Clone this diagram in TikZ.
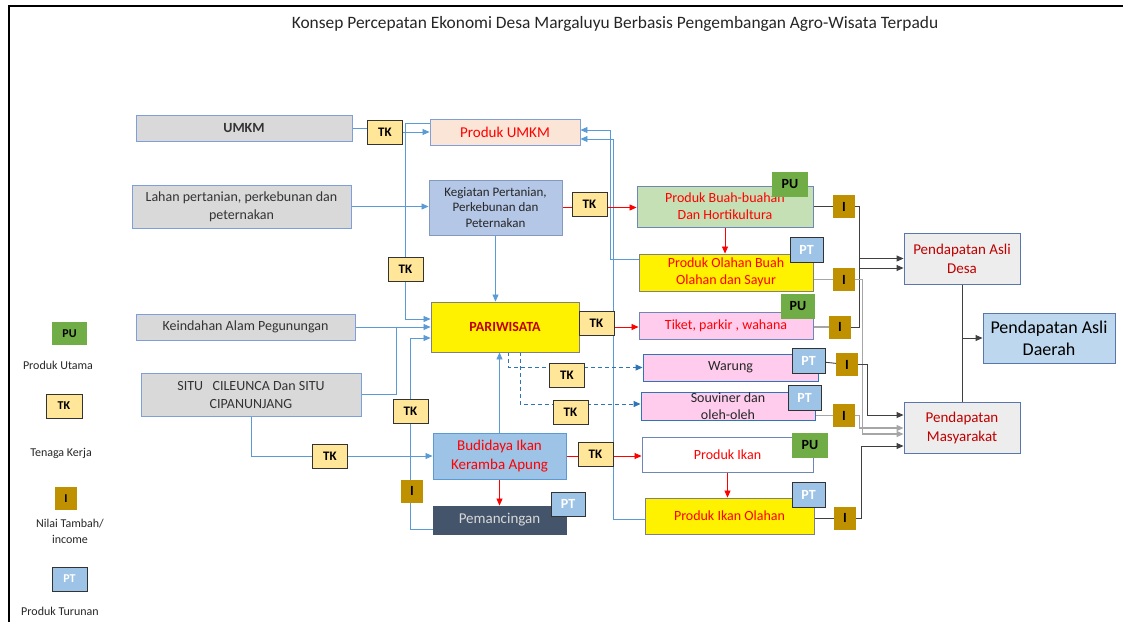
\documentclass[tikz,border=0pt]{standalone}
\usepackage{fontspec}
\setmainfont{Carlito}
\usetikzlibrary{arrows.meta, backgrounds}
\definecolor{srcborder}{HTML}{7F9FDB}
\definecolor{greyfill}{HTML}{D9D9D9}
\definecolor{peach}{HTML}{FBE5D6}
\definecolor{paleblue}{HTML}{B4C7E7}
\definecolor{midblue}{HTML}{9DC3E6}
\definecolor{slate}{HTML}{44546A}
\definecolor{palegreen}{HTML}{C5E0B4}
\definecolor{pinkfill}{HTML}{FFCCEE}
\definecolor{tkfill}{HTML}{FFE699}
\definecolor{pugreen}{HTML}{70AD47}
\definecolor{igold}{HTML}{BF9000}
\definecolor{lightgrey}{HTML}{EDEDED}
\definecolor{daerahblue}{HTML}{BDD7EE}
\definecolor{darkred}{HTML}{C00000}
\definecolor{linkblue}{HTML}{5B9BD5}
\definecolor{dashblue}{HTML}{2E75B6}
\definecolor{navyline}{HTML}{2F5597}
\tikzset{
  base box/.style={
    draw,
    line width=0.9pt,
    align=center,
    inner sep=0pt,
    font=\fontsize{14}{17}\selectfont,
  },
  source box/.style={base box, draw=srcborder, fill=greyfill, text=black!80},
  core box/.style={base box, draw=srcborder, text=red},
  product box/.style={base box, draw=navyline!70, text=red},
  income box/.style={base box, draw=navyline!80, fill=lightgrey, text=darkred,
    font=\fontsize{15}{19}\selectfont},
  badge/.style={inner sep=0pt, font=\bfseries\fontsize{13}{15}\selectfont},
  tk badge/.style={badge, draw=black!80, line width=0.8pt, fill=tkfill,
    minimum width=35pt, minimum height=24pt},
  pu badge/.style={badge, fill=pugreen, minimum width=36pt, minimum height=25pt,
    font=\bfseries\fontsize{14}{16}\selectfont},
  pt badge/.style={badge, draw=black!80, line width=0.8pt, fill=midblue, text=white,
    minimum width=33pt, minimum height=25pt, font=\bfseries\fontsize{14}{16}\selectfont},
  i badge/.style={badge, fill=igold, minimum width=22pt, minimum height=23pt,
    font=\bfseries\fontsize{14}{16}\selectfont},
  legend text/.style={align=center, font=\fontsize{12}{16}\selectfont, text=black!85},
  blue link/.style={draw=linkblue, line width=0.8pt},
  red link/.style={draw=red, line width=0.8pt},
  dash link/.style={draw=dashblue, line width=1pt, dash pattern=on 4pt off 3pt},
  income link/.style={draw=black!75, line width=0.9pt},
  income link grey/.style={draw=black!35, line width=1.2pt},
}

\begin{document}
\begin{tikzpicture}[x=1pt, y=-1pt, >={Triangle[length=7pt, width=6pt]}]
  \useasboundingbox (0,0) rectangle (1123,622);
  \draw[line width=2pt] (9,622) -- (9,6) -- (1123,6);
  \node[font=\fontsize{17.4}{20}\selectfont, text=black!85] (title) at (615,24)
    {Konsep Percepatan Ekonomi Desa Margaluyu Berbasis Pengembangan Agro-Wisata Terpadu};

  % sumber daya
  \node[source box, minimum width=216pt, minimum height=26pt, font=\bfseries\fontsize{14}{17}\selectfont] (umkm) at (244,128) {UMKM};
  \node[source box, minimum width=219pt, minimum height=43pt, font=\fontsize{14}{18}\selectfont] (lahan) at (241.5,206.5) {Lahan pertanian, perkebunan dan\\peternakan};
  \node[source box, minimum width=219pt, minimum height=26pt] (keindahan) at (245.5,327) {Keindahan Alam Pegunungan};
  \node[source box, minimum width=220pt, minimum height=43pt, font=\fontsize{14}{18}\selectfont] (situ) at (251,394.5) {SITU\ \ \ CILEUNCA Dan SITU\\CIPANUNJANG};

  % kegiatan inti
  \node[core box, fill=peach, minimum width=150pt, minimum height=26pt, font=\fontsize{15}{18}\selectfont] (produkumkm) at (505,132) {Produk UMKM};
  \node[core box, draw=navyline!60, fill=paleblue, text=black!85, minimum width=133pt, minimum height=55pt, font=\fontsize{13}{15.5}\selectfont] (kegiatan) at (495.5,207.5) {Kegiatan Pertanian,\\Perkebunan dan\\Peternakan};
  \node[core box, draw=black!50, fill=yellow, text=darkred, minimum width=148pt, minimum height=50pt, font=\bfseries\fontsize{14}{17}\selectfont] (pariwisata) at (505,327) {PARIWISATA};
  \node[core box, draw=linkblue, fill=midblue, minimum width=133pt, minimum height=46pt, font=\fontsize{15}{19}\selectfont] (budidaya) at (499.5,456) {Budidaya Ikan\\Keramba Apung};
  \node[core box, draw=slate, fill=slate, text=black!15, minimum width=133pt, minimum height=28pt, font=\fontsize{15}{18}\selectfont] (pemancingan) at (499.5,520) {Pemancingan};

  % produk
  \node[product box, fill=palegreen, minimum width=176pt, minimum height=41pt] (buah) at (725,206.5) {Produk Buah-buahan\\Dan Hortikultura};
  \node[product box, draw=black!50, fill=yellow, minimum width=174pt, minimum height=37pt] (olahanbuah) at (726,272.5) {Produk Olahan Buah\\Olahan dan Sayur};
  \node[product box, fill=pinkfill, minimum width=174pt, minimum height=27pt] (tiket) at (726,325.5) {Tiket, parkir , wahana};
  \node[product box, draw=dashblue, fill=pinkfill, text=black!85, minimum width=175pt, minimum height=27pt] (warung) at (730.5,367.5) {Warung};
  \node[product box, draw=dashblue, fill=pinkfill, text=black!85, minimum width=174pt, minimum height=28pt, font=\fontsize{14}{17}\selectfont] (souviner) at (728,406) {Souviner dan\\oleh-oleh};
  \node[product box, fill=white, minimum width=171pt, minimum height=35pt] (ikan) at (727.5,454.5) {Produk Ikan};
  \node[product box, draw=black!50, fill=yellow, minimum width=169pt, minimum height=36pt] (ikanolahan) at (729.5,516) {Produk Ikan Olahan};

  % pendapatan
  \node[income box, minimum width=116pt, minimum height=51pt] (desa) at (962,258.5) {Pendapatan Asli\\Desa};
  \node[income box, minimum width=116pt, minimum height=51pt] (masyarakat) at (962,427.5) {Pendapatan\\Masyarakat};
  \node[income box, fill=daerahblue, text=black, minimum width=132pt, minimum height=50pt, font=\fontsize{18}{22}\selectfont] (daerah) at (1049,338) {Pendapatan Asli\\Daerah};

  % tenaga kerja
  \node[tk badge] (tka) at (385,132) {TK};
  \node[tk badge] (tkb) at (589.5,204) {TK};
  \node[tk badge] (tkc) at (405.5,269) {TK};
  \node[tk badge] (tkd) at (596.5,323) {TK};
  \node[tk badge] (tke) at (567,375) {TK};
  \node[tk badge] (tkf) at (570.5,412.5) {TK};
  \node[tk badge] (tkg) at (410.5,411.5) {TK};
  \node[tk badge] (tkh) at (330,456) {TK};
  \node[tk badge] (tki) at (595.5,454) {TK};

  % produk utama / turunan
  \node[pu badge] (pua) at (790,184.5) {PU};
  \node[pu badge, minimum width=34pt] (pub) at (798,306.5) {PU};
  \node[pu badge] (puc) at (810,445.5) {PU};
  \node[pt badge] (pta) at (806.5,249.5) {PT};
  \node[pt badge] (ptb) at (808.5,360.5) {PT};
  \node[pt badge] (ptc) at (804.5,397.5) {PT};
  \node[pt badge] (ptd) at (808.5,494.5) {PT};
  \node[pt badge, minimum width=34pt, minimum height=24pt] (pte) at (568,504) {PT};

  % nilai tambah
  \node[i badge] (i1) at (844,206.5) {I};
  \node[i badge] (i2) at (844,279.5) {I};
  \node[i badge] (i3) at (840,327) {I};
  \node[i badge] (i4) at (847,364.5) {I};
  \node[i badge] (i5) at (844,415.5) {I};
  \node[i badge] (i6) at (845,518) {I};
  \node[i badge] (i7) at (412,491) {I};

  \coordinate (d1) at (desa.west);
  \coordinate (d2) at ([yshift=-9.5pt]desa.west);
  \coordinate (m1) at ([yshift=12.5pt]masyarakat.west);
  \coordinate (m2) at ([yshift=-0.5pt]masyarakat.west);
  \coordinate (m3) at ([yshift=-6.5pt]masyarakat.west);
  \coordinate (m4) at ([yshift=-18.5pt]masyarakat.west);

  % keterangan
  \node[pu badge, minimum width=35pt, minimum height=23pt, font=\bfseries\fontsize{12}{14}\selectfont] (legpu) at (69.5,333.5) {PU};
  \node[legend text] (legpulabel) at (58,365) {Produk Utama};
  \node[tk badge, minimum width=36pt, font=\bfseries\fontsize{12}{14}\selectfont] (legtk) at (64,406) {TK};
  \node[legend text] (legtklabel) at (61,453) {Tenaga Kerja};
  \node[i badge, font=\bfseries\fontsize{12}{14}\selectfont] (legi) at (66,498.5) {I};
  \node[legend text] (legilabel) at (70,531) {Nilai Tambah/\\income};
  \node[pt badge, minimum width=35pt, minimum height=24pt, font=\bfseries\fontsize{12}{14}\selectfont] (legpt) at (69.5,579) {PT};
  \node[legend text] (legptlabel) at (60,611) {Produk Turunan};

  \begin{scope}[on background layer]
    % alur biru
    \draw[blue link] (umkm.east) -- (umkm.east -| tka.west);
    \draw[blue link, ->] (tka) -- (produkumkm.west);
    \draw[blue link, ->] ([yshift=9pt]produkumkm.west) -| (tkc) |- ([yshift=8pt]pariwisata.west);
    \draw[blue link, ->] (lahan.east) -- (lahan.east -| kegiatan.west);
    \draw[blue link, ->] (keindahan.east) -- (pariwisata.west);
    \draw[blue link] (situ.east) -| ([xshift=41pt]keindahan.east);
    \draw[blue link, ->] (situ.south) |- (tkh) -- (budidaya.west);
    \draw[blue link, ->] ([yshift=-9pt]pemancingan.west) -| (tkg) |- ([yshift=-11pt]pariwisata.west);
    \draw[blue link, ->] (kegiatan.south) -- (kegiatan.south |- pariwisata.north);
    \draw[blue link, ->] (budidaya.north) -- (budidaya.north |- pariwisata.south);
    \draw[blue link, ->] ([yshift=13pt]olahanbuah.west) -| ([xshift=30pt, yshift=2pt]produkumkm.east) -- ([yshift=2pt]produkumkm.east);
    \draw[blue link, ->] ([yshift=-3pt]ikanolahan.west) -| ([xshift=33pt, yshift=-7pt]produkumkm.east) -- ([yshift=-7pt]produkumkm.east);
    \draw[dash link, ->] ([xshift=3pt]pariwisata.south) |- (warung.west);
    \draw[dash link, ->] ([xshift=15pt]pariwisata.south) |- ([yshift=2pt]souviner.west);

    % alur merah
    \draw[red link, ->] (kegiatan.east) -- (kegiatan.east -| buah.west);
    \draw[red link, ->] (buah.south) -- (buah.south |- olahanbuah.north);
    \draw[red link, ->] (pariwisata.east) -- (pariwisata.east -| tiket.west);
    \draw[red link, ->] (budidaya.east) -- (budidaya.east -| ikan.west);
    \draw[red link, ->] (budidaya.south) -- (budidaya.south |- pemancingan.north);
    \draw[red link, ->] (ikan.south) -- (ikan.south |- ikanolahan.north);

    % nilai tambah ke pendapatan
    \draw[income link] (buah.east) -- (i1);
    \draw[income link grey] (olahanbuah.east |- i2) -- (i2);
    \draw[income link grey] (tiket.east |- i3) -- (i3);
    \draw[income link] (ptb) -- (i4);
    \draw[income link grey] (souviner.east |- i5) -- (i5);
    \draw[income link] (ikanolahan.east |- i6) -- (i6);
    \draw[income link] (i1.east) -- ++(4,0) |- (i3.east);
    \draw[income link, ->] (i3.east) -- ++(8,0) |- (d1);
    \draw[income link, ->] (i3.east) -- ++(8,0) |- (d2);
    \draw[income link grey, ->] (i2.east) -- ++(7,0) |- (m3);
    \draw[income link, ->] (i4.east) -- ++(9,0) |- (m1);
    \draw[income link grey, ->] (i5.east) -- ++(4,0) |- (m2);
    \draw[income link, ->] (i6.east) -- ++(5,0) |- (m4);
    \draw[income link] (desa.south) -- (masyarakat.north);
    \draw[income link, ->] (desa.south |- daerah.west) -- (daerah.west);
  \end{scope}
\end{tikzpicture}
\end{document}
